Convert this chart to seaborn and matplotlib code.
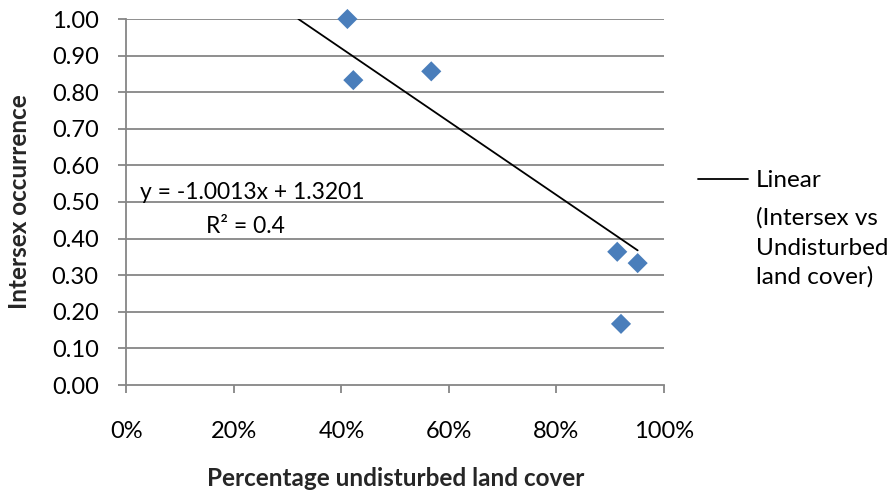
import numpy as np
import pandas as pd
import matplotlib
matplotlib.use("Agg")
import matplotlib.pyplot as plt
from matplotlib.lines import Line2D
from matplotlib.ticker import PercentFormatter, FormatStrFormatter
import seaborn as sns

# Site data: share of undisturbed land cover vs. intersex occurrence
undisturbed = [0.411, 0.422, 0.567, 0.913, 0.951, 0.920]
intersex = [1.000, 0.833, 0.857, 0.364, 0.333, 0.167]

# Linear trendline coefficients as reported
slope = -1.0013
intercept = 1.3201
r_squared = 0.4

x_ticks = [0.0, 0.2, 0.4, 0.6, 0.8, 1.0]
y_ticks = [0.0, 0.1, 0.2, 0.3, 0.4, 0.5, 0.6, 0.7, 0.8, 0.9, 1.0]

legend_lines = ["Linear", "(Intersex vs", "Undisturbed", "land cover)"]

sns.set_theme(style="white")
plt.rcParams["font.family"] = ["Lato", "DejaVu Sans"]

GRID = "#868686"
BLUE = "#4a7ebb"

fig = plt.figure(figsize=(8.95, 4.95), dpi=100)
ax = fig.add_axes([126.5 / 895, 1 - 385 / 495, (664 - 126.5) / 895, (385 - 19) / 495])

df = pd.DataFrame({"undisturbed": undisturbed, "intersex": intersex})

# trendline across the fitted range, clipped at the top of the axis
x0 = (intercept - 1.0) / -slope
x1 = max(undisturbed)
trend = pd.DataFrame({"x": [x0, x1]})
trend["y"] = intercept + slope * trend["x"]
sns.lineplot(data=trend, x="x", y="y", ax=ax, color="black", linewidth=1.3, zorder=3)

sns.scatterplot(data=df, x="undisturbed", y="intersex", ax=ax, marker="D",
                s=105, color=BLUE, edgecolor="none", zorder=4, clip_on=False)

ax.set_xlim(0, 1.0)
ax.set_ylim(0, 1.0)
ax.set_xticks(x_ticks)
ax.set_yticks(y_ticks)
ax.xaxis.set_major_formatter(PercentFormatter(1.0, decimals=0))
ax.yaxis.set_major_formatter(FormatStrFormatter("%.2f"))

ax.grid(False)
for yv in y_ticks[1:]:
    ax.axhline(yv, color=GRID, linewidth=1.3, zorder=1)

for side in ["top", "right"]:
    ax.spines[side].set_visible(False)
for side in ["left", "bottom"]:
    ax.spines[side].set_color(GRID)
    ax.spines[side].set_linewidth(1.3)

ax.tick_params(axis="both", which="major", direction="out", length=6,
               width=1.3, color=GRID, labelsize=17, labelcolor="black")
ax.tick_params(axis="y", pad=14)
ax.tick_params(axis="x", pad=20)
ax.tick_params(left=True, bottom=True)

ax.set_xlabel("Percentage undisturbed land cover", fontsize=17.5, fontweight="bold")
ax.set_ylabel("Intersex occurrence", fontsize=17.5, fontweight="bold")
ax.xaxis.label.set_va("center")
ax.yaxis.label.set_va("center")
ax.xaxis.set_label_coords(0.5, (385 - 478) / 366)
ax.yaxis.set_label_coords((20 - 126.5) / 537.5, 0.5)

ax.text(0.025, 0.508, f"y = {slope:.4f}x + {intercept:.4f}", fontsize=16.5,
        ha="left", va="baseline", color="black")
ax.text(0.222, 0.416, f"R² = {r_squared}", fontsize=16.5, ha="center",
        va="baseline", color="black")

# legend entry for the trendline
fig.add_artist(Line2D([698 / 895, 748 / 895], [1 - 179 / 495, 1 - 179 / 495],
                      color="black", linewidth=1.3))
baselines = [187, 225, 255, 284]
for txt, yb in zip(legend_lines, baselines):
    fig.text(756 / 895, 1 - yb / 495, txt, fontsize=17.5, ha="left",
             va="baseline", color="black")

fig.savefig("out.png", dpi=100)
